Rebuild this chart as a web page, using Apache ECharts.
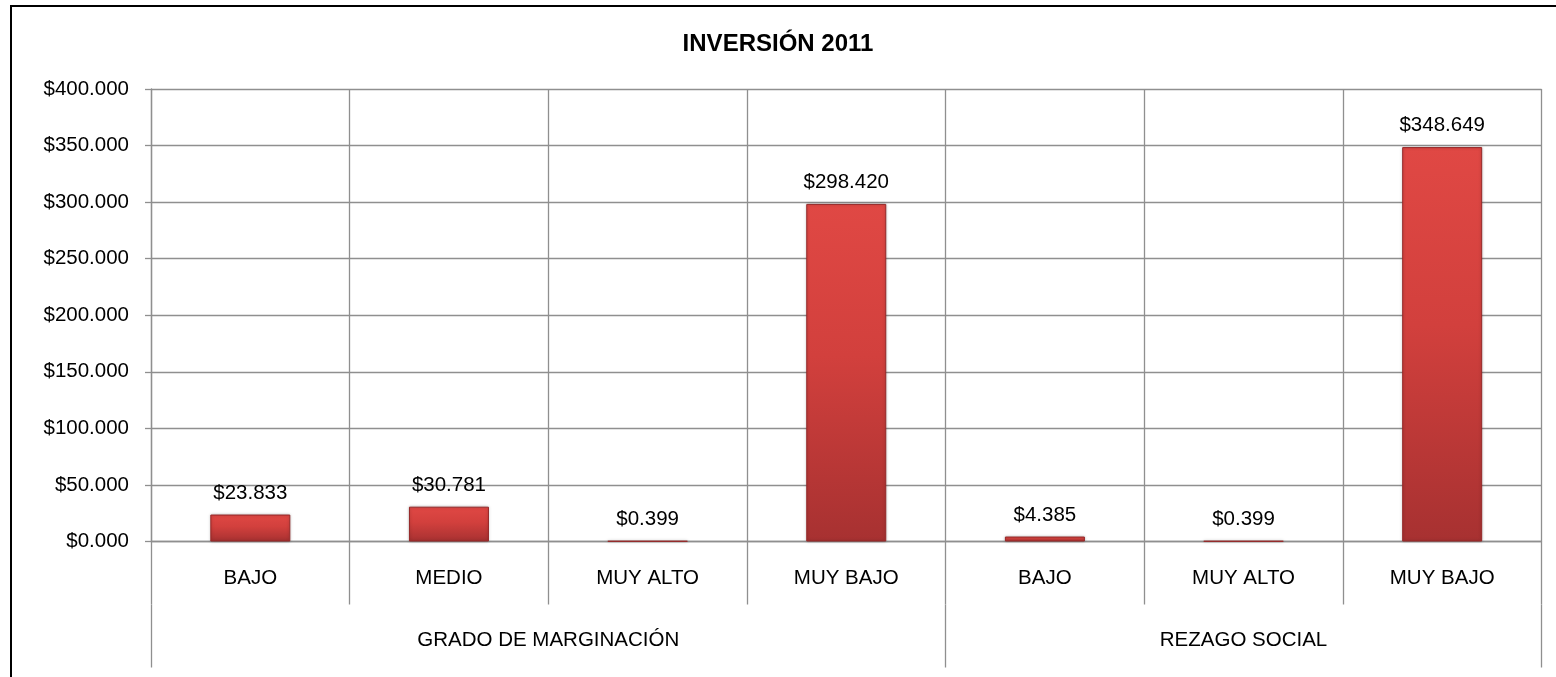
<!DOCTYPE html>
<html>
<head>
<meta charset="utf-8">
<script src="https://cdn.jsdelivr.net/npm/echarts@6/dist/echarts.min.js"></script>
<style>
  html, body { margin: 0; padding: 0; background: #fff; overflow: hidden; }
  #chart { position: absolute; left: 0; top: 0; width: 1556px; height: 677px; }
  #frame { position: absolute; left: 10px; top: 5px; width: 3000px; height: 3000px;
           border: 2.5px solid #000; pointer-events: none; }
</style>
</head>
<body>
<div id="chart"></div>
<div id="frame"></div>
<script>
var categories = ['BAJO', 'MEDIO', 'MUY ALTO', 'MUY BAJO', 'BAJO', 'MUY ALTO', 'MUY BAJO'];
var inversion = [23.833, 30.781, 0.399, 298.420, 4.385, 0.399, 348.649];
var groups = ['GRADO DE MARGINACIÓN', 'REZAGO SOCIAL'];
var groupSizes = [4, 3];
var yTicks = [0, 50, 100, 150, 200, 250, 300, 350, 400];

var gridColor = '#8f8f8f';
var font = 'Liberation Sans, Arial, sans-serif';
var labelSize = 20.5;

// group boundaries and centres on a 0..n scale
var bounds = [0];
var centres = [];
groupSizes.forEach(function (s) {
    var start = bounds[bounds.length - 1];
    bounds.push(start + s);
    centres.push(start + s / 2);
});

function money(v) {
    return '$' + Number(v).toFixed(3);
}

var myChart = echarts.init(document.getElementById('chart'));
var option = {
    animation: false,
    title: {
        text: 'INVERSIÓN 2011',
        left: 'center',
        top: 27,
        textStyle: { fontFamily: font, fontSize: 24, fontWeight: 'bold', color: '#000' }
    },
    grid: { left: 151, right: 14.5, top: 89, bottom: 135.5 },
    xAxis: [
        {
            type: 'category',
            data: categories,
            axisLine: { show: true, lineStyle: { color: gridColor, width: 1.3 } },
            axisTick: { show: true, length: 63, lineStyle: { color: gridColor, width: 1.3 } },
            splitLine: { show: true, lineStyle: { color: gridColor, width: 1.3 } },
            axisLabel: { margin: 26, fontFamily: font, fontSize: labelSize, color: '#000' }
        },
        {
            type: 'value',
            position: 'bottom',
            offset: 63,
            min: 0,
            max: categories.length,
            axisLine: { show: false },
            splitLine: { show: false },
            axisTick: {
                show: true,
                customValues: bounds,
                length: 63,
                lineStyle: { color: gridColor, width: 1.3 }
            },
            axisLabel: {
                customValues: centres,
                margin: 25,
                fontFamily: font,
                fontSize: labelSize,
                color: '#000',
                formatter: function (v) {
                    return groups[centres.indexOf(v)] || '';
                }
            }
        }
    ],
    yAxis: {
        type: 'value',
        min: yTicks[0],
        max: yTicks[yTicks.length - 1],
        interval: yTicks[1] - yTicks[0],
        axisLine: { show: true, lineStyle: { color: gridColor, width: 1.3 } },
        axisTick: { show: true, inside: false, length: 6, lineStyle: { color: gridColor, width: 1.3 } },
        splitLine: { show: true, lineStyle: { color: gridColor, width: 1.3 } },
        axisLabel: { margin: 22, fontFamily: font, fontSize: labelSize, color: '#000', formatter: money }
    },
    series: [
        {
            name: 'Inversión',
            type: 'bar',
            xAxisIndex: 0,
            barWidth: 80,
            data: inversion,
            itemStyle: {
                color: new echarts.graphic.LinearGradient(0, 0, 0, 1, [
                    { offset: 0, color: '#e04844' },
                    { offset: 0.45, color: '#d2403d' },
                    { offset: 1, color: '#a73131' }
                ]),
                borderColor: '#962828',
                borderWidth: 1,
                shadowColor: 'rgba(0,0,0,0.25)',
                shadowBlur: 3
            },
            label: {
                show: true,
                position: 'top',
                distance: 11,
                fontFamily: font,
                fontSize: labelSize,
                color: '#000',
                formatter: function (p) { return money(p.value); }
            }
        }
    ]
};
myChart.setOption(option);
window.addEventListener('resize', function () {
    myChart.resize();
});
</script>
</body>
</html>
